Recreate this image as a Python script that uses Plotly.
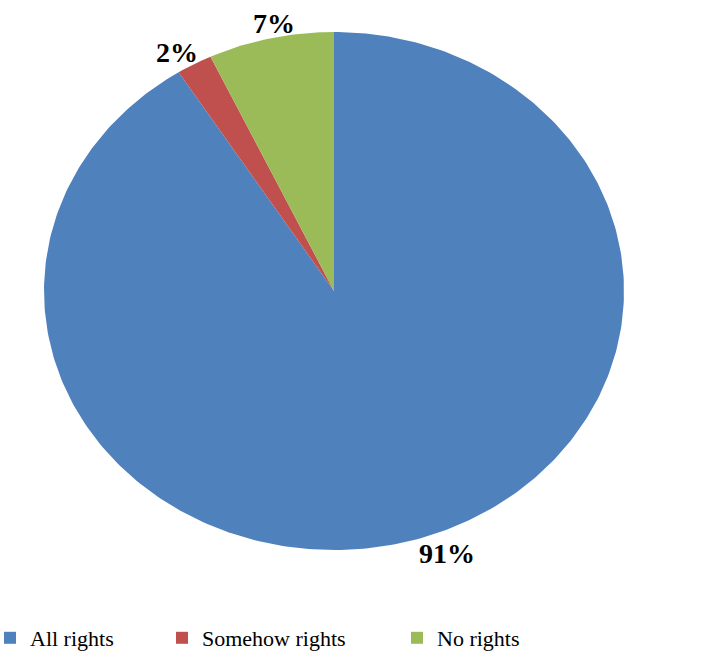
import numpy as np
import plotly.graph_objects as go

categories = ["All rights", "Somehow rights", "No rights"]
values = [91, 2, 7]
labels = ["91%", "2%", "7%"]

colors = ["#4F81BD", "#C0504D", "#9BBB59"]
label_anchor = [("left", "top"), ("right", "bottom"), ("center", "bottom")]
label_shift = [(2, 4), (6, -6), (3, -3)]
legend_ids = ["legend", "legend2", "legend3"]
legend_left_px = [-10, 162, 397]

W, H = 702, 651
cx, cy = 334, 291      # pixel centre of pie
rx, ry = 290, 259      # pixel radii
SERIF = "Liberation Serif"

fig = go.Figure()

total = float(sum(values))
start = 0.0
for i, (cat, v) in enumerate(zip(categories, values)):
    a0 = start / total * 2 * np.pi
    a1 = (start + v) / total * 2 * np.pi
    t = np.linspace(a0, a1, max(8, int(v * 4)))
    xs = np.concatenate([[0], np.sin(t), [0]])
    ys = np.concatenate([[0], np.cos(t), [0]])
    fig.add_trace(go.Scatter(x=xs, y=ys, fill="toself", mode="lines",
                             line=dict(width=0, color=colors[i]),
                             fillcolor=colors[i], showlegend=False,
                             hoverinfo="text", text=f"{cat}: {labels[i]}"))
    mid = (a0 + a1) / 2
    xa, ya = label_anchor[i]
    fig.add_annotation(x=float(np.sin(mid)), y=float(np.cos(mid)), text=f"<b>{labels[i]}</b>",
                       showarrow=False, xanchor=xa, yanchor=ya,
                       xshift=label_shift[i][0], yshift=label_shift[i][1],
                       font=dict(family=SERIF, size=28, color="black"))
    fig.add_trace(go.Scatter(x=[None], y=[None], mode="markers", name=cat,
                             marker=dict(symbol="square", size=12, color=colors[i]),
                             legend=legend_ids[i], showlegend=True))
    start += v

x_range = [-cx / rx, (W - cx) / rx]
y_range = [-(H - cy) / ry, cy / ry]

leg_common = dict(orientation="h", yanchor="middle", y=(H - 638) / H, xanchor="left",
                  font=dict(family=SERIF, size=22, color="black"),
                  bgcolor="rgba(0,0,0,0)")

fig.update_layout(
    width=W, height=H,
    font=dict(family=SERIF, color="black"),
    margin=dict(l=0, r=0, t=0, b=0, autoexpand=False),
    paper_bgcolor="white", plot_bgcolor="white",
    xaxis=dict(range=x_range, visible=False, fixedrange=True),
    yaxis=dict(range=y_range, visible=False, fixedrange=True),
    legend=dict(x=legend_left_px[0] / W, **leg_common),
    legend2=dict(x=legend_left_px[1] / W, **leg_common),
    legend3=dict(x=legend_left_px[2] / W, **leg_common),
)

fig.write_html("out.html")
